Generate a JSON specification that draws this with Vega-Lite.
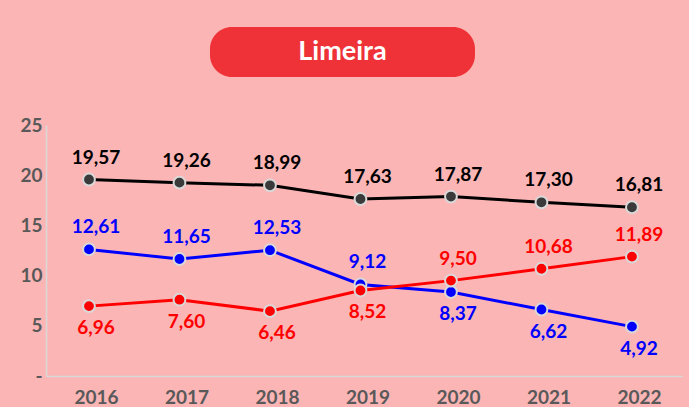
{
  "$schema": "https://vega.github.io/schema/vega-lite/v6.json",
  "background": "#FBB5B5",
  "padding": {"left": 19, "top": 27, "right": 7, "bottom": 0},
  "autosize": {"type": "pad"},
  "bounds": "flush",
  "spacing": 48,
  "config": {
    "view": {"stroke": null},
    "font": "Lato",
    "locale": {"number": {"decimal": ",", "thousands": ".", "grouping": [3], "currency": ["R$", ""]}}
  },
  "vconcat": [
    {
      "width": 636,
      "height": 50,
      "data": {"values": [{"titulo": "Limeira"}]},
      "layer": [
        {
          "mark": {"type": "rect", "color": "#EE3237", "cornerRadius": 22},
          "encoding": {
            "x": {"field": "titulo", "type": "nominal", "axis": null,
                  "scale": {"paddingInner": 0, "paddingOuter": 0.7, "align": 0.442}}
          }
        },
        {
          "mark": {"type": "text", "color": "#FFFFFF", "fontSize": 27, "fontWeight": "bold", "baseline": "middle"},
          "encoding": {
            "x": {"field": "titulo", "type": "nominal", "axis": null,
                  "scale": {"paddingInner": 0, "paddingOuter": 0.7, "align": 0.442}},
            "text": {"field": "titulo"}
          }
        }
      ]
    },
    {
      "width": 636,
      "height": 251,
      "data": {"values": [
        {"ano": "2016", "serie": "Série 1", "valor": 19.57},
        {"ano": "2017", "serie": "Série 1", "valor": 19.26},
        {"ano": "2018", "serie": "Série 1", "valor": 18.99},
        {"ano": "2019", "serie": "Série 1", "valor": 17.63},
        {"ano": "2020", "serie": "Série 1", "valor": 17.87},
        {"ano": "2021", "serie": "Série 1", "valor": 17.30},
        {"ano": "2022", "serie": "Série 1", "valor": 16.81},
        {"ano": "2016", "serie": "Série 2", "valor": 12.61},
        {"ano": "2017", "serie": "Série 2", "valor": 11.65},
        {"ano": "2018", "serie": "Série 2", "valor": 12.53},
        {"ano": "2019", "serie": "Série 2", "valor": 9.12},
        {"ano": "2020", "serie": "Série 2", "valor": 8.37},
        {"ano": "2021", "serie": "Série 2", "valor": 6.62},
        {"ano": "2022", "serie": "Série 2", "valor": 4.92},
        {"ano": "2016", "serie": "Série 3", "valor": 6.96},
        {"ano": "2017", "serie": "Série 3", "valor": 7.60},
        {"ano": "2018", "serie": "Série 3", "valor": 6.46},
        {"ano": "2019", "serie": "Série 3", "valor": 8.52},
        {"ano": "2020", "serie": "Série 3", "valor": 9.50},
        {"ano": "2021", "serie": "Série 3", "valor": 10.68},
        {"ano": "2022", "serie": "Série 3", "valor": 11.89}
      ]},
      "encoding": {
        "x": {"field": "ano", "type": "ordinal",
              "scale": {"type": "point", "padding": 0.514, "align": 0.462},
              "axis": {"title": null, "labelAngle": 0, "labelFontSize": 19, "labelFontWeight": "bold",
                       "labelColor": "#595959", "labelOffset": 7, "labelPadding": 12, "ticks": false,
                       "domainColor": "#D9D9D9", "domainWidth": 1.5, "grid": false}},
        "y": {"field": "valor", "type": "quantitative",
              "scale": {"domain": [0, 25], "nice": false},
              "axis": {"title": null, "values": [0, 5, 10, 15, 20, 25], "labelExpr": "datum.value == 0 ? '-' : datum.label",
                       "labelFontSize": 19, "labelFontWeight": "bold", "labelColor": "#595959",
                       "labelPadding": 4, "ticks": false, "grid": false, "minExtent": 26, "maxExtent": 26,
                       "domainColor": "#D9D9D9", "domainWidth": 1.5}}
      },
      "layer": [
        {
          "mark": {"type": "line", "strokeWidth": 3},
          "encoding": {
            "color": {"field": "serie", "type": "nominal", "legend": null,
                      "scale": {"domain": ["Série 1", "Série 2", "Série 3"], "range": ["#000000", "#0000FF", "#FF0000"]}}
          }
        },
        {
          "mark": {"type": "point", "filled": false, "size": 140, "strokeWidth": 2, "opacity": 1, "stroke": "#D9D9D9"},
          "encoding": {
            "fill": {"field": "serie", "type": "nominal", "legend": null,
                     "scale": {"domain": ["Série 1", "Série 2", "Série 3"], "range": ["#3A3A3A", "#0000FF", "#FF0000"]}},
            "detail": {"field": "serie"}
          }
        },
        {
          "transform": [{"filter": "datum.serie == 'Série 1' || (datum.serie == 'Série 2' && datum.ano <= '2019') || (datum.serie == 'Série 3' && datum.ano >= '2020')"}],
          "mark": {"type": "text", "fontSize": 19, "fontWeight": "bold", "dx": 7, "dy": -22, "baseline": "middle"},
          "encoding": {
            "text": {"field": "valor", "type": "quantitative", "format": ".2f"},
            "color": {"field": "serie", "type": "nominal", "legend": null,
                      "scale": {"domain": ["Série 1", "Série 2", "Série 3"], "range": ["#000000", "#0000FF", "#FF0000"]}}
          }
        },
        {
          "transform": [{"filter": "(datum.serie == 'Série 2' && datum.ano >= '2020') || (datum.serie == 'Série 3' && datum.ano <= '2019')"}],
          "mark": {"type": "text", "fontSize": 19, "fontWeight": "bold", "dx": 7, "dy": 22, "baseline": "middle"},
          "encoding": {
            "text": {"field": "valor", "type": "quantitative", "format": ".2f"},
            "color": {"field": "serie", "type": "nominal", "legend": null,
                      "scale": {"domain": ["Série 1", "Série 2", "Série 3"], "range": ["#000000", "#0000FF", "#FF0000"]}}
          }
        }
      ]
    }
  ]
}
